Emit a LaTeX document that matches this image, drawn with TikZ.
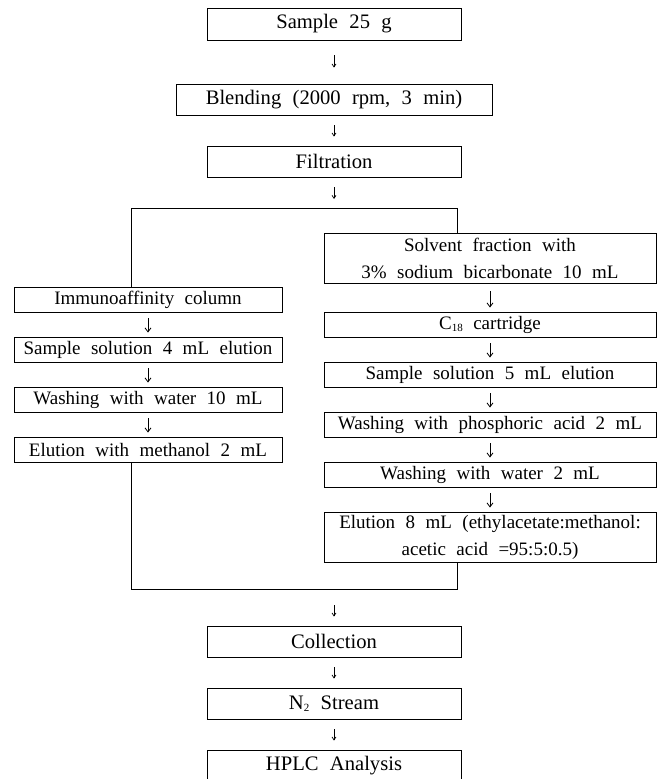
\documentclass[tikz,border=0pt]{standalone}
\usepackage{fontspec}
\setmainfont{Liberation Serif}[WordSpace=2.2]
\usetikzlibrary{arrows.meta}
\newcommand{\lowidx}[1]{\raisebox{-2.5pt}{\fontsize{11}{11}\selectfont #1}}

\begin{document}
\begin{tikzpicture}[x=1pt,y=1pt,
  mainbox/.style={draw, line width=0.9pt, inner sep=0pt, minimum width=254pt, minimum height=31pt, font=\fontsize{20.6}{24}\selectfont},
  leftbox/.style={draw, line width=0.9pt, inner sep=0pt, minimum width=268pt, minimum height=25pt, font=\fontsize{19}{27}\selectfont},
  rightbox/.style={leftbox, minimum width=332pt, align=center},
  flow/.style={line width=0.7pt, -{Straight Barb[length=3pt,width=4pt]}, shorten <=10pt, shorten >=9pt},
  colflow/.style={line width=0.8pt, -{Straight Barb[length=4pt,width=6pt]}, shorten <=6pt, shorten >=4pt},
  link/.style={line width=0.9pt}]
\useasboundingbox (0,0) rectangle (663,-779);
\node[mainbox, minimum height=32pt] (sample) at (334,-24) {Sample 25 g};
\node[mainbox, minimum width=316pt] (blend) at (334,-99.5) {Blending (2000 rpm, 3 min)};
\node[mainbox] (filt) at (334,-161.5) {Filtration};
\coordinate (split) at (334,-208);
\coordinate (lt) at (131,-208);
\coordinate (rt) at (457,-208);
\node[leftbox] (immuno) at (148,-299.5) {Immunoaffinity column};
\node[leftbox] (sol4) at (148,-349.5) {Sample solution 4 mL elution};
\node[leftbox] (wash10) at (148,-399.5) {Washing with water 10 mL};
\node[leftbox] (elumeth) at (148,-449.5) {Elution with methanol 2 mL};
\node[rightbox, minimum height=50pt] (solvent) at (490,-258) {Solvent fraction with\\3\% sodium bicarbonate 10 mL};
\node[rightbox] (cart) at (490,-324.5) {C\lowidx{18} cartridge};
\node[rightbox] (sol5) at (490,-374.5) {Sample solution 5 mL elution};
\node[rightbox] (washacid) at (490,-424.5) {Washing with phosphoric acid 2 mL};
\node[rightbox] (wash2) at (490,-474.5) {Washing with water 2 mL};
\node[rightbox, minimum height=50pt] (elu8) at (490,-537) {Elution 8 mL (ethylacetate:methanol:\\acetic acid =95:5:0.5)};
\coordinate (lb) at (131,-589);
\coordinate (rb) at (457,-589);
\coordinate (merge) at (334,-589);
\node[mainbox] (collect) at (334,-641.5) {Collection};
\node[mainbox] (nstream) at (334,-703.5) {N\lowidx{2} Stream};
\node[mainbox] (hplc) at (334,-765.5) {HPLC Analysis};
\draw[flow, shorten <=15pt, shorten >=16pt] (sample) -- (blend);
\draw[flow] (blend) -- (filt);
\draw[flow] (filt) -- (split);
\draw[link] (immuno.north -| lt) -- (lt) -- (rt) -- (solvent.north -| rt);
\draw[colflow] (immuno) -- (sol4);
\draw[colflow] (sol4) -- (wash10);
\draw[colflow] (wash10) -- (elumeth);
\draw[colflow, shorten <=8pt] (solvent) -- (cart);
\draw[colflow] (cart) -- (sol5);
\draw[colflow] (sol5) -- (washacid);
\draw[colflow] (washacid) -- (wash2);
\draw[colflow] (wash2) -- (elu8);
\draw[link] (elumeth.south -| lb) -- (lb) -- (rb) -- (elu8.south -| rb);
\draw[flow, shorten <=16pt] (merge) -- (collect);
\draw[flow] (collect) -- (nstream);
\draw[flow] (nstream) -- (hplc);
\end{tikzpicture}
\end{document}
